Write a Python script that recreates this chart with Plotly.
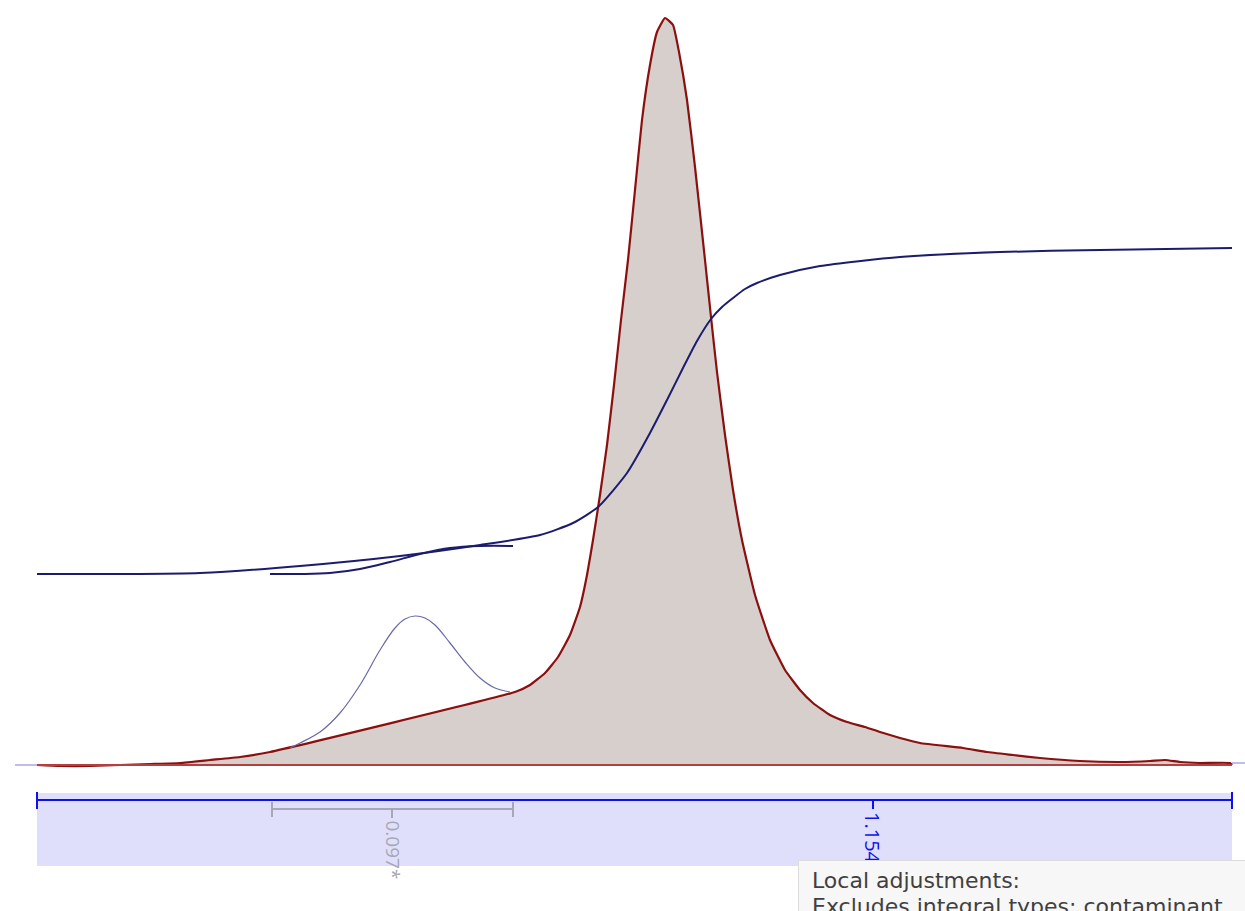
import plotly.graph_objects as go

# Spectrum trace (position, intensity); the segment from 270 to 515 runs along
# the local baseline drawn under the excluded contaminant peak.
spec_x = [37, 60, 90, 120, 150, 180, 210, 240, 270, 515, 530, 545, 558, 570, 580, 587,
          593, 600, 607, 614, 621, 628, 635, 642, 650, 657, 665, 673, 679, 687, 695,
          705, 711, 717, 725, 733, 742, 755, 770, 785, 800, 813, 830, 847, 865, 880,
          900, 920, 963, 987, 1013, 1040, 1080, 1120, 1150, 1165, 1180, 1200, 1230, 1232]
spec_y = [0, -1, -1, 0, 1, 2, 5, 8, 13, 73, 80, 92, 108, 130, 158, 190,
          225, 270, 320, 380, 445, 505, 575, 645, 700, 733, 747, 740, 713, 665, 598,
          505, 448, 393, 330, 275, 225, 170, 125, 95, 75, 62, 50, 43, 38, 33,
          27, 22, 17, 13, 10, 7, 4, 3, 4, 5, 3, 2, 2, 0]

# Contaminant peak (drawn above the local baseline)
cont_x = [290, 300, 320, 340, 360, 380, 395, 405, 415, 425, 435, 450, 465, 480, 495, 510]
cont_y = [17, 22, 33, 52, 80, 115, 137, 146, 149, 147, 140, 122, 103, 87, 77, 73]

# Running integral over the full region
int_x = [37, 120, 200, 300, 400, 480, 540, 573, 598, 627, 650, 667, 683, 697, 711, 722,
         733, 745, 757, 780, 820, 900, 1000, 1100, 1232]
int_y = [191, 191, 192, 199, 209, 220, 230, 242, 258, 292, 332, 365, 397, 424, 446, 458,
         467, 476, 482, 490, 499, 508, 513, 515, 517]

# Running integral over the contaminant region
sub_x = [270, 300, 330, 360, 390, 420, 450, 480, 513]
sub_y = [191, 191, 192, 196, 203, 211, 217, 219, 219]

# Integral bars: label, start, end, label position
full_region = ("1.154", 37, 1232, 873)
cont_region = ("0.097*", 272, 513, 392)

# Tooltip lines
tip_lines = ["Local adjustments:", "Excludes integral types: contaminant"]

RED = "#8b0f0f"
NAVY = "#1c1c6e"
BLUE = "#1010ee"
GREY = "#a8a8b4"
FONT = "DejaVu Sans"

fig = go.Figure()

fig.add_trace(go.Scatter(x=[15, 37], y=[0, 0], mode="lines",
                         line=dict(color="#a9a9e0", width=1.5), hoverinfo="skip"))
fig.add_trace(go.Scatter(x=[1232, 1245], y=[2, 2], mode="lines",
                         line=dict(color="#a9a9e0", width=1.5), hoverinfo="skip"))

fig.add_trace(go.Scatter(x=spec_x, y=spec_y, mode="lines", fill="tozeroy",
                         fillcolor="#d6cfcc", line=dict(color=RED, width=2.2, shape="spline",
                                                        smoothing=0.4),
                         hoverinfo="skip"))
fig.add_trace(go.Scatter(x=[37, 1232], y=[0, 0], mode="lines",
                         line=dict(color="#b24040", width=2), hoverinfo="skip"))

fig.add_trace(go.Scatter(x=cont_x, y=cont_y, mode="lines",
                         line=dict(color="#6a6aa8", width=1.2, shape="spline"),
                         hoverinfo="skip"))

fig.add_trace(go.Scatter(x=int_x, y=int_y, mode="lines",
                         line=dict(color=NAVY, width=2, shape="spline", smoothing=0.6),
                         hoverinfo="skip"))
fig.add_trace(go.Scatter(x=sub_x, y=sub_y, mode="lines",
                         line=dict(color=NAVY, width=2, shape="spline"), hoverinfo="skip"))

shapes = []
annotations = []

# Integral band
shapes.append(dict(type="rect", xref="x", yref="y", x0=37, x1=1232, y0=-28, y1=-101,
                   fillcolor="#dfdffc", line=dict(width=0), layer="below"))

lab, a, b, m = full_region
shapes += [
    dict(type="line", x0=a, x1=b, y0=-35, y1=-35, line=dict(color=BLUE, width=2)),
    dict(type="line", x0=a, x1=a, y0=-27, y1=-44, line=dict(color=BLUE, width=2)),
    dict(type="line", x0=b, x1=b, y0=-27, y1=-44, line=dict(color=BLUE, width=2)),
    dict(type="line", x0=m, x1=m, y0=-35, y1=-44, line=dict(color=BLUE, width=2)),
]
annotations.append(dict(x=m, y=-45, text=lab, showarrow=False, textangle=90,
                        xanchor="center", yanchor="top",
                        font=dict(family="Open Sans", size=20, color=BLUE)))

lab, a, b, m = cont_region
shapes += [
    dict(type="line", x0=a, x1=b, y0=-44, y1=-44, line=dict(color=GREY, width=2)),
    dict(type="line", x0=a, x1=a, y0=-37, y1=-52, line=dict(color=GREY, width=2)),
    dict(type="line", x0=b, x1=b, y0=-37, y1=-52, line=dict(color=GREY, width=2)),
    dict(type="line", x0=m, x1=m, y0=-44, y1=-53, line=dict(color=GREY, width=2)),
]
annotations.append(dict(x=m + 1, y=-53, text=lab, showarrow=False, textangle=90,
                        xanchor="center", yanchor="top",
                        font=dict(family="Open Sans", size=19, color=GREY)))

# Tooltip panel (drawn over the integral labels)
annotations.append(dict(x=798, y=-95, text=" ", showarrow=False, xanchor="left",
                        yanchor="top", width=460, height=80, bgcolor="#f7f7f7",
                        bordercolor="#dcdcdc", borderwidth=1, borderpad=0))
for i, line in enumerate(tip_lines):
    annotations.append(dict(x=810, y=-101 - 26 * i, text=line, showarrow=False,
                            xanchor="left", yanchor="top",
                            font=dict(family=FONT, size=22, color="#404040")))

fig.update_layout(
    width=1245, height=911,
    margin=dict(l=0, r=0, t=0, b=0),
    paper_bgcolor="white", plot_bgcolor="white",
    showlegend=False,
    xaxis=dict(range=[0, 1245], visible=False, fixedrange=True),
    yaxis=dict(range=[-146, 765], visible=False, fixedrange=True),
    shapes=shapes, annotations=annotations,
)

fig.write_html("out.html")
